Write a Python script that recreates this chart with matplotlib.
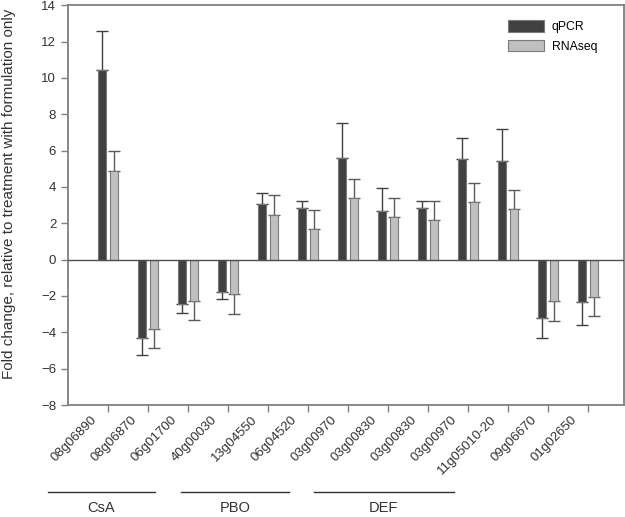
import numpy as np
import matplotlib
matplotlib.use("Agg")
import matplotlib.pyplot as plt
from matplotlib.transforms import blended_transform_factory, ScaledTranslation

plt.rcParams['font.family'] = ['Liberation Sans', 'DejaVu Sans']

genes = ['08g06890', '08g06870', '06g01700', '40g00030', '13g04550', '06g04520',
         '03g00970', '03g00830', '03g00830', '03g00970', '11g05010-20', '09g06670',
         '01g02650']
qpcr = [10.46, -4.30, -2.45, -1.80, 3.07, 2.85, 5.58, 2.67, 2.83, 5.55, 5.42, -3.20, -2.34]
qpcr_err = [2.1, 0.95, 0.51, 0.35, 0.57, 0.40, 1.91, 1.28, 0.37, 1.13, 1.77, 1.12, 1.28]
rnaseq = [4.88, -3.84, -2.25, -1.91, 2.47, 1.68, 3.37, 2.32, 2.17, 3.15, 2.76, -2.30, -2.03]
rnaseq_err = [1.07, 1.05, 1.06, 1.08, 1.06, 1.04, 1.04, 1.05, 1.06, 1.04, 1.08, 1.10, 1.08]

groups = ['CsA', 'PBO', 'DEF']
group_span = [(-1.5, 1.175), (1.825, 4.525), (5.15, 8.65)]

fig = plt.figure(figsize=(6.25, 5.17), dpi=100)
ax = fig.add_axes([0.1088, 0.2166, 0.8892, 0.7734])

x = np.arange(len(genes))
w = 0.2
off = 0.15

def one_sided(vals, errs):
    # error bar only on the side away from zero
    lo = [e if v < 0 else 0 for v, e in zip(vals, errs)]
    hi = [e if v >= 0 else 0 for v, e in zip(vals, errs)]
    return [lo, hi]

ax.bar(x - off, qpcr, w, color='#404040', edgecolor='#7a7a7a', linewidth=0.8,
       label='qPCR', zorder=3)
ax.bar(x + off, rnaseq, w, color='#c0c0c0', edgecolor='#7a7a7a', linewidth=0.8,
       label='RNAseq', zorder=3)
ax.errorbar(x - off, qpcr, yerr=one_sided(qpcr, qpcr_err), fmt='none',
            ecolor='#404040', elinewidth=1, capsize=4.3, capthick=1, zorder=2)
ax.errorbar(x + off, rnaseq, yerr=one_sided(rnaseq, rnaseq_err), fmt='none',
            ecolor='#5a5a5a', elinewidth=1, capsize=4.3, capthick=1, zorder=2)

ax.axhline(0, color='#505050', linewidth=1, zorder=4)

ax.set_xlim(-1, 12.9)
ax.set_ylim(-8, 14)
ax.set_yticks(range(-8, 15, 2))
ax.set_xticks(x)
ax.set_xticklabels([])
ax.tick_params(axis='y', labelsize=9.5, labelcolor='#333333', color='#808080',
               length=5, width=1)
ax.tick_params(axis='x', color='#808080', length=5, width=1)
for s in ax.spines.values():
    s.set_color('#808080')
    s.set_linewidth(1.3)

# rotated gene labels, set a bit to the left of each tick as in the original
lab_trans = blended_transform_factory(ax.transData, ax.transAxes) + \
    ScaledTranslation(-17 / 100, -9 / 100, fig.dpi_scale_trans)
for xi, g in zip(x, genes):
    ax.text(xi, 0, g, transform=lab_trans, rotation=45, ha='right', va='top',
            rotation_mode='anchor', fontsize=9.5, color='#333333')

fig.text(9 / 625, 1 - 194 / 517,
         'Fold change, relative to treatment with formulation only',
         rotation=90, ha='center', va='center', fontsize=11, color='#333333')

ax.legend(loc='upper right', bbox_to_anchor=(0.972, 0.99), frameon=False,
          fontsize=8.8, handlelength=3.0, handleheight=1.05, labelspacing=0.55,
          handletextpad=0.6)

trans = blended_transform_factory(ax.transData, fig.transFigure)
for g, (a, b) in zip(groups, group_span):
    ax.plot([a, b], [1 - 492 / 517, 1 - 492 / 517], color='#333333', linewidth=1,
            transform=trans, clip_on=False)
    ax.text((a + b) / 2, 1 - 508 / 517, g, transform=trans, ha='center',
            va='center', fontsize=10.5, color='#333333')

fig.savefig('out.png', dpi=100)
